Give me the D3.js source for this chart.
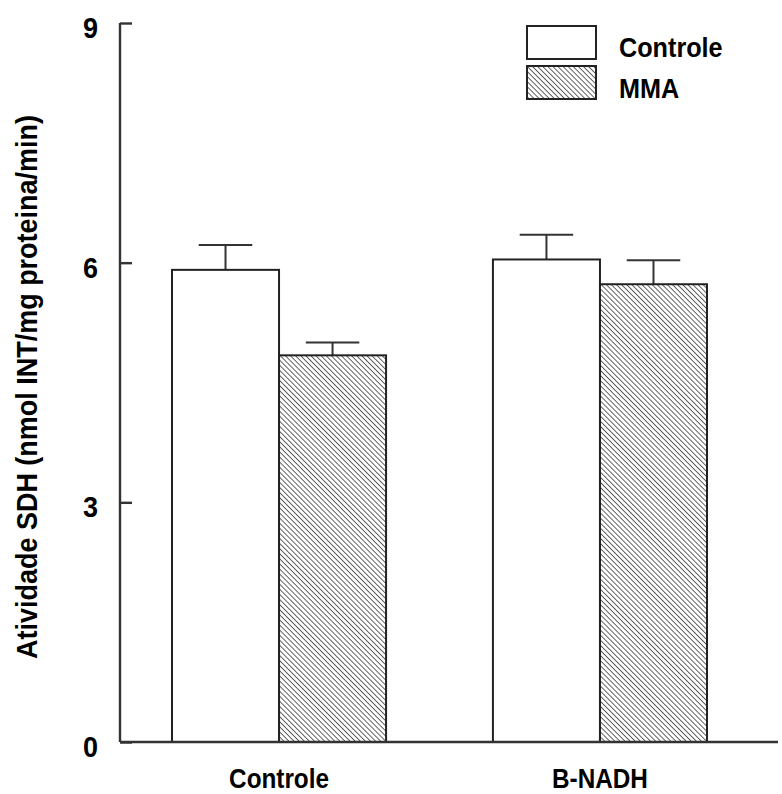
<!DOCTYPE html>
<html>
<head>
<meta charset="utf-8">
<script src="https://cdn.jsdelivr.net/npm/d3@7"></script>
<style>
  body { margin: 0; background: #fff; }
  text { font-family: "Liberation Sans", Arial, sans-serif; font-weight: bold; fill: #000; }
</style>
</head>
<body>
<div id="chart"></div>
<script>
var groups = ['Controle', 'B-NADH'];
var series = ['Controle', 'MMA'];
var controleVals = [5.91, 6.04];
var controleErr = [0.31, 0.31];
var mmaVals = [4.84, 5.73];
var mmaErr = [0.16, 0.30];
var yTicks = [0, 3, 6, 9];

var width = 782, height = 794;
var margin = {top: 23, right: 2, bottom: 52, left: 120};
var plotW = width - margin.left - margin.right,
    plotH = height - margin.top - margin.bottom;

var svg = d3.select('#chart').append('svg')
  .attr('width', width)
  .attr('height', height);

var defs = svg.append('defs');
defs.append('pattern')
  .attr('id', 'hatch')
  .attr('patternUnits', 'userSpaceOnUse')
  .attr('width', 3.6).attr('height', 3.6)
  .attr('patternTransform', 'rotate(-45)')
  .append('line')
    .attr('x1', 0).attr('y1', 0).attr('x2', 0).attr('y2', 3.6)
    .attr('stroke', '#222').attr('stroke-width', 1.4);

var g = svg.append('g')
  .attr('transform', 'translate(' + margin.left + ',' + margin.top + ')');

var yScale = d3.scaleLinear().domain([0, 9]).range([plotH, 0]);

var x0 = d3.scaleBand()
  .domain(groups)
  .range([0, 639])
  .paddingInner(0.333)
  .paddingOuter(0.162);

var x1 = d3.scaleBand()
  .domain(series)
  .range([0, x0.bandwidth()]);

var rows = [];
groups.forEach(function(grp, i) {
  rows.push({group: grp, s: 'Controle', v: controleVals[i], e: controleErr[i]});
  rows.push({group: grp, s: 'MMA', v: mmaVals[i], e: mmaErr[i]});
});

// error bars (drawn first, bars go on top)
var err = g.selectAll('.err').data(rows).enter().append('g');
err.append('line')
  .attr('x1', function(d) { return x0(d.group) + x1(d.s) + x1.bandwidth() / 2; })
  .attr('x2', function(d) { return x0(d.group) + x1(d.s) + x1.bandwidth() / 2; })
  .attr('y1', function(d) { return yScale(d.v); })
  .attr('y2', function(d) { return yScale(d.v + d.e); })
  .attr('stroke', '#333').attr('stroke-width', 2);
err.append('line')
  .attr('x1', function(d) { return x0(d.group) + x1(d.s) + x1.bandwidth() / 4; })
  .attr('x2', function(d) { return x0(d.group) + x1(d.s) + x1.bandwidth() * 3 / 4; })
  .attr('y1', function(d) { return yScale(d.v + d.e); })
  .attr('y2', function(d) { return yScale(d.v + d.e); })
  .attr('stroke', '#333').attr('stroke-width', 2);

g.selectAll('.bar').data(rows).enter().append('rect')
  .attr('x', function(d) { return x0(d.group) + x1(d.s); })
  .attr('width', x1.bandwidth())
  .attr('y', function(d) { return yScale(d.v); })
  .attr('height', function(d) { return plotH - yScale(d.v); })
  .attr('fill', function(d) { return d.s == 'MMA' ? 'url(#hatch)' : '#fff'; })
  .attr('stroke', '#222')
  .attr('stroke-width', 2);

// y axis
var yAxis = g.append('g')
  .call(d3.axisLeft(yScale).tickValues(yTicks).tickSize(-12).tickPadding(22));
yAxis.select('.domain').attr('stroke', '#333').attr('stroke-width', 2.4)
  .attr('d', 'M0,0V' + plotH);
yAxis.selectAll('.tick line').attr('stroke', '#333').attr('stroke-width', 2.4);
yAxis.selectAll('.tick text').style('font-size', '30px').attr('dy', '0.48em');

// x axis
var xAxis = g.append('g')
  .attr('transform', 'translate(0,' + plotH + ')')
  .call(d3.axisBottom(x0).tickSize(0).tickPadding(27));
xAxis.select('.domain').attr('stroke', '#333').attr('stroke-width', 2.4)
  .attr('d', 'M0,0H' + (plotW - 2));
xAxis.selectAll('.tick text').style('font-size', '27px');

// y title
svg.append('text')
  .attr('class', 'ytitle')
  .attr('transform', 'translate(37,387) rotate(-90)')
  .attr('text-anchor', 'middle')
  .style('font-size', '29px')
  .text('Atividade SDH (nmol INT/mg proteina/min)');

// legend
var legend = svg.append('g').attr('transform', 'translate(527,26)');
series.forEach(function(s, i) {
  legend.append('rect')
    .attr('x', 0).attr('y', i * 40)
    .attr('width', 69).attr('height', 33)
    .attr('fill', s == 'MMA' ? 'url(#hatch)' : '#fff')
    .attr('stroke', '#222').attr('stroke-width', 2);
  legend.append('text')
    .attr('x', 92).attr('y', i * 41 + 31)
    .style('font-size', '28px')
    .text(s);
});

// the original lettering is a bit narrower than Arial
svg.selectAll('text').each(function() {
  var w = this.getComputedTextLength();
  var f = this.classList.contains('ytitle') ? 0.93 : 0.9;
  d3.select(this).attr('textLength', w * f).attr('lengthAdjust', 'spacingAndGlyphs');
});
</script>
</body>
</html>
